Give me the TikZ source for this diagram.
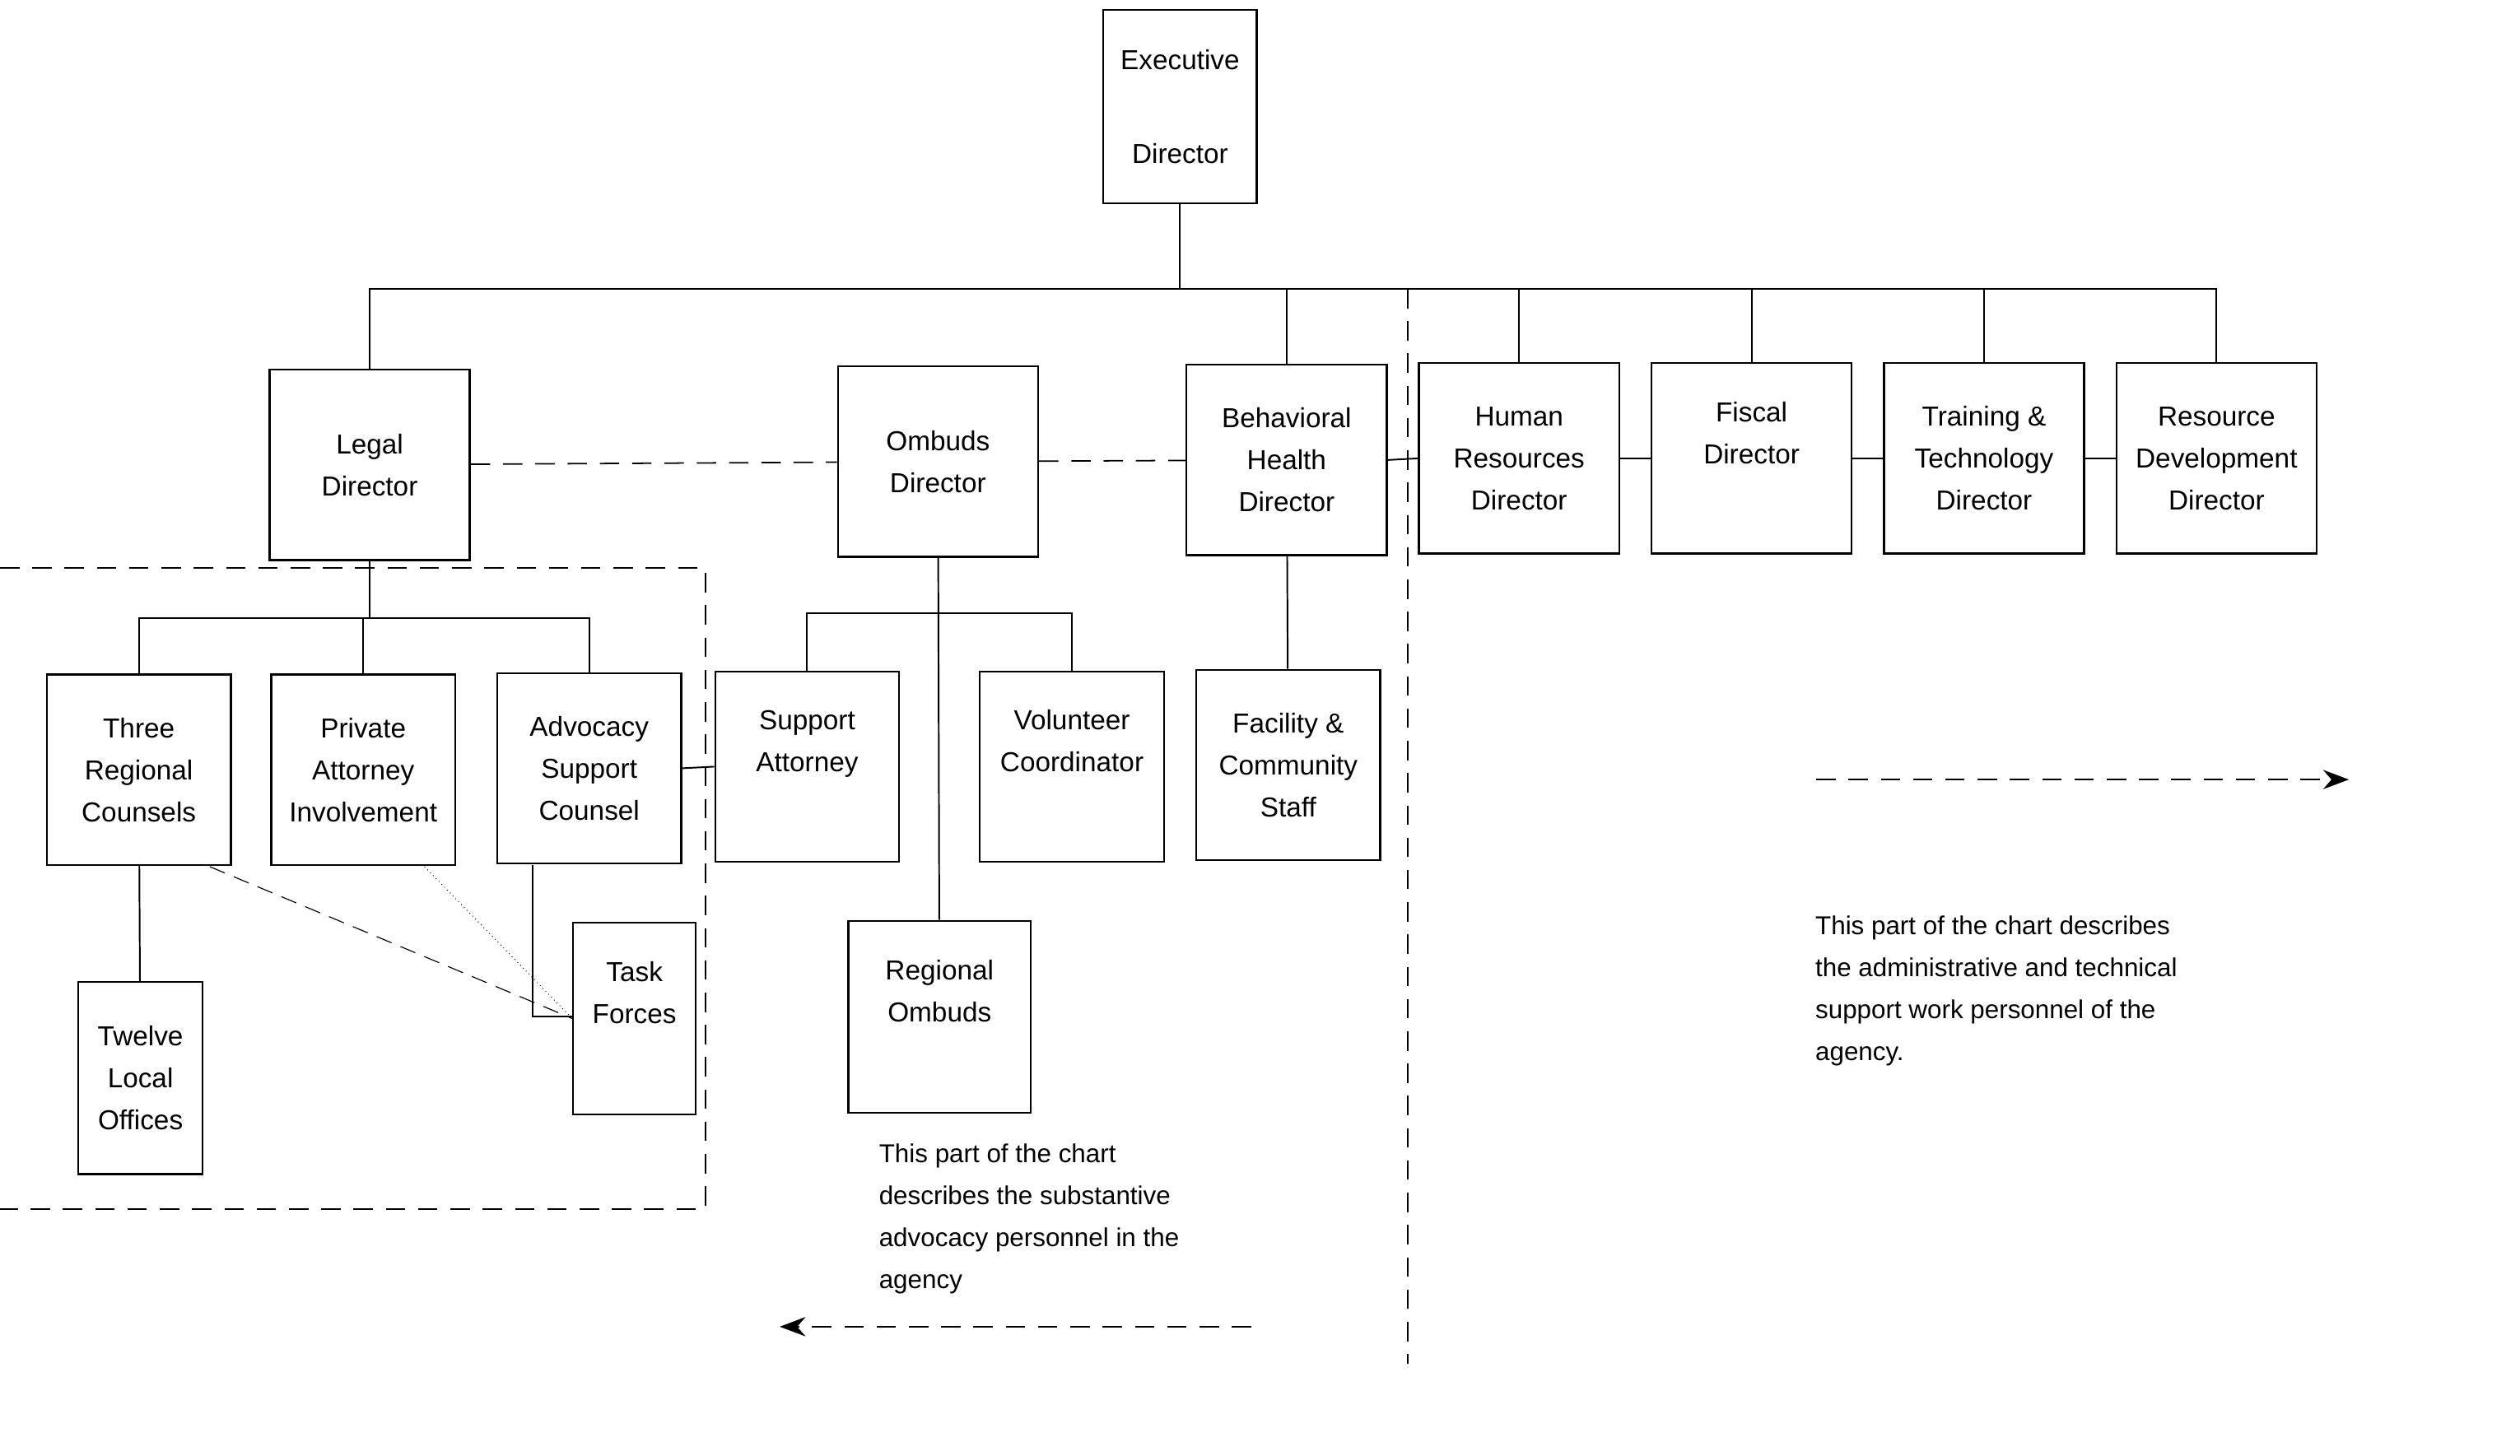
\documentclass[tikz,border=0pt]{standalone}
\usepackage{fontspec}
\setmainfont{Liberation Sans}
\usetikzlibrary{arrows.meta}
\begin{document}
\begin{tikzpicture}[x=1pt,y=-1pt,
 box/.style={draw,line width=1.2pt,minimum width=#1,minimum height=118pt,align=center,inner sep=2pt,font=\fontsize{17}{26}\selectfont},
 box/.default=124pt,
 ln/.style={line width=1pt},
 dsh/.style={line width=0.9pt,dash pattern=on 12pt off 8pt},
 note/.style={align=left,anchor=north west,font=\fontsize{16}{26}\selectfont}]
\useasboundingbox (0,0) rectangle (1561,902);
\node[box=95pt,minimum height=120pt,font=\fontsize{17}{58}\selectfont] (ex) at (731,66) {Executive\\Director};
\node[box] (legal) at (229,288) {Legal\\Director};
\node[box] (omb) at (581,286) {Ombuds\\Director};
\node[box] (beh) at (797,285) {Behavioral\\Health\\Director};
\node[box] (hr) at (941,284) {Human\\Resources\\Director};
\node[box] (fis) at (1085,284) {Fiscal\\Director\\[6pt]};
\node[box] (tr) at (1229,284) {Training \&\\Technology\\Director};
\node[box] (res) at (1373,284) {Resource\\Development\\Director};
\node[box=114pt] (three) at (86,477) {Three\\Regional\\Counsels};
\node[box=114pt] (priv) at (225,477) {Private\\Attorney\\Involvement};
\node[box=114pt] (adv) at (365,476) {Advocacy\\Support\\Counsel};
\node[box=114pt] (sup) at (500,475) {Support\\Attorney\\[6pt]};
\node[box=114pt] (vol) at (664,475) {Volunteer\\Coordinator\\[6pt]};
\node[box=114pt] (fac) at (798,474) {Facility \&\\Community\\Staff};
\node[box=113pt,minimum height=119pt] (rom) at (582,630) {Regional\\Ombuds\\[6pt]};
\node[box=77pt,minimum height=119pt] (tw) at (87,668) {Twelve\\Local\\Offices};
\node[box=76pt,minimum height=119pt] (tf) at (393,631) {Task\\Forces\\[6pt]};
% top tree
\coordinate (j0) at (731,179);
\draw[ln] (ex) -- (j0);
\draw[ln] (legal.north) |- (j0) -| (res.north);
\foreach \n in {beh,hr,fis,tr} \draw[ln] (\n.north) -- (\n.north |- j0);
\draw[dsh] (legal) -- (omb);
\draw[dsh] (omb) -- (beh);
\draw[ln] (beh.east) -- (hr.west);
\draw[ln] (hr) -- (fis); \draw[ln] (fis) -- (tr); \draw[ln] (tr) -- (res);
% legal subtree
\coordinate (j1) at (229,383);
\draw[ln] (legal) -- (j1);
\draw[ln] (three.north) |- (j1) -| (adv.north);
\draw[ln] (priv.north) -- (priv.north |- j1);
\draw[ln] (three) -- (tw);
\draw[ln] (adv.east) -- (sup.west);
\coordinate (j3) at (330,630);
\draw[ln] (330,536) -- (j3) -- (tf.west |- j3);
\draw[line width=0.6pt,dash pattern=on 10pt off 6pt] (130,537) -- (tf.west);
\draw[line width=0.5pt,dotted] (263,537) -- (tf.west);
% ombuds subtree
\coordinate (j2) at (581,380);
\draw[ln] (omb) -- (rom);
\draw[ln] (sup.north) |- (j2) -| (vol.north);
\draw[ln] (beh) -- (fac);
% dashed regions
\draw[dsh] (0,352) -- (437,352) -- (437,749) -- (0,749);
\draw[dsh] (872,179) -- (872,845);
\draw[dsh,-{Stealth[length=16pt,width=12pt]}] (1125,483) -- (1455,483);
\draw[dsh,-{Stealth[length=16pt,width=12pt]}] (775,822) -- (483,822);
\node[note] (n1) at (541,705) {This part of the chart\\describes the substantive\\advocacy personnel in the\\agency};
\node[note] (n2) at (1121,564) {This part of the chart describes\\the administrative and technical\\support work personnel of the\\agency.};
\end{tikzpicture}
\end{document}
